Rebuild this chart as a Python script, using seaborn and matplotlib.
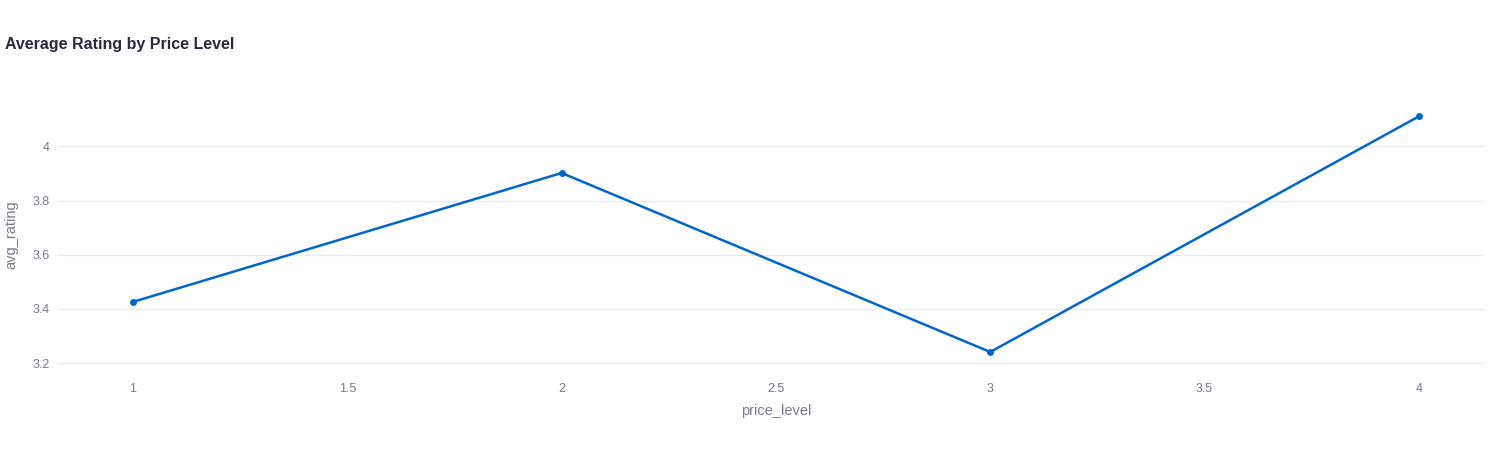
import matplotlib
matplotlib.use("Agg")
import matplotlib.pyplot as plt
import seaborn as sns
import pandas as pd

# values
price_level = [1, 2, 3, 4]
avg_rating = [3.426, 3.902, 3.241, 4.111]
x_ticks = [1, 1.5, 2, 2.5, 3, 3.5, 4]
x_tick_labels = ["1", "1.5", "2", "2.5", "3", "3.5", "4"]
y_ticks = [3.2, 3.4, 3.6, 3.8, 4.0]
y_tick_labels = ["3.2", "3.4", "3.6", "3.8", "4"]

df = pd.DataFrame({"price_level": price_level, "avg_rating": avg_rating})

sns.set_theme(style="white")
plt.rcParams["font.family"] = ["Liberation Sans", "DejaVu Sans"]

line_color = "#0066cc"
text_color = "#7a7a8c"

fig = plt.figure(figsize=(14.94, 4.5), dpi=100)
ax = fig.add_axes([58 / 1494, 1 - 375 / 450, (1484 - 58) / 1494, (375 - 95) / 450])

sns.lineplot(data=df, x="price_level", y="avg_rating", ax=ax, color=line_color,
             linewidth=1.8, marker="o", markersize=5, markeredgewidth=0)

ax.set_xlim(0.825, 4.152)
ax.set_ylim(3.156, 4.19)
ax.set_xticks(x_ticks)
ax.set_xticklabels(x_tick_labels)
ax.set_yticks(y_ticks)
ax.set_yticklabels(y_tick_labels)
ax.tick_params(axis="both", length=0, labelsize=9, labelcolor=text_color)
ax.tick_params(axis="x", pad=6)
ax.tick_params(axis="y", pad=6)

ax.yaxis.grid(True, color="#ebebf0", linewidth=1)
ax.xaxis.grid(False)
for s in ax.spines.values():
    s.set_visible(False)

ax.set_xlabel("price_level", fontsize=10.5, color=text_color)
ax.set_ylabel("avg_rating", fontsize=10.5, color=text_color)
# place axis titles where the reference has them (figure pixels)
ax.xaxis.set_label_coords((776 - 58) / 1426, -(404 - 375) / 280)
ax.yaxis.set_label_coords(-(58 - 18) / 1426, (375 - 235) / 280)

fig.text(5 / 1494, 1 - 45 / 450, "Average Rating by Price Level", fontsize=11.5,
         fontweight="bold", color="#2a2a3a", va="center", ha="left")

fig.savefig("out.png", dpi=100)
